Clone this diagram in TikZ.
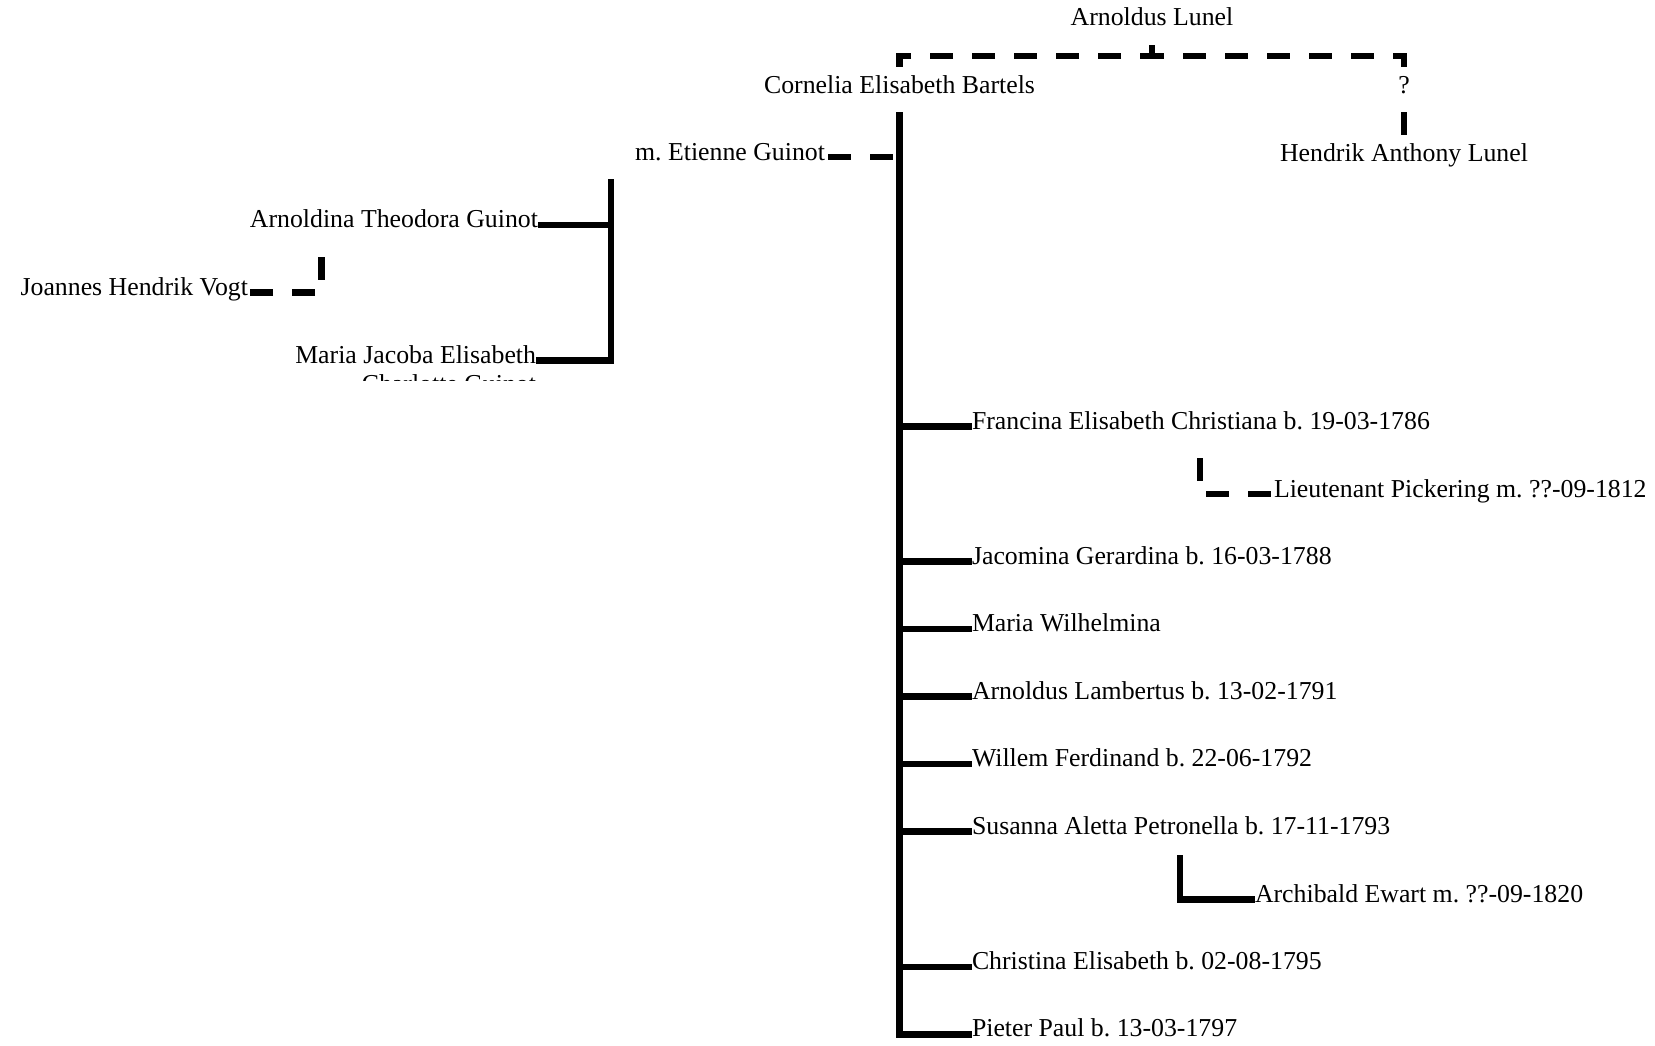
\documentclass[tikz,border=0pt]{standalone}
\usepackage{fontspec}
\setmainfont{Liberation Serif}
\frenchspacing
\begin{document}
\frenchspacing
\begin{tikzpicture}[x=1pt,y=-1pt,
  person/.style={inner sep=0pt, outer sep=0pt, font=\fontsize{25.8}{30}\selectfont},
  solidlink/.style={line width=6.5pt},
  dashlink/.style={line width=6.5pt, dash pattern=on 23pt off 19pt},
]
\useasboundingbox[fill=white] (0,0) rectangle (1655,1045);

% top generation
\node[person, anchor=base] (arnoldus) at (1152,25.5) {Arnoldus Lunel};
\node[person, anchor=base] (cornelia) at (899.5,93) {Cornelia Elisabeth Bartels};
\node[person, anchor=base] (unk) at (1404,93) {?};
\node[person, anchor=base] (hendrik) at (1404,161) {Hendrik Anthony Lunel};
\node[person, anchor=base east] (guinot) at (825,160) {m. Etienne Guinot};

% left branch
\node[person, anchor=base east] (arnoldina) at (538,227.5) {Arnoldina Theodora Guinot};
\node[person, anchor=base east] (vogt) at (248,295) {Joannes Hendrik Vogt};
\node[person, anchor=base east] (mariaj) at (536,363) {Maria Jacoba Elisabeth};
\begin{scope}
  \clip (0,0) rectangle (1655,380);
  \node[person, anchor=base east] (mariaj2) at (536,392) {Charlotte Guinot};
\end{scope}

% children
\node[person, anchor=base west] (francina) at (972,429) {Francina Elisabeth Christiana b. 19-03-1786};
\node[person, anchor=base west] (pickering) at (1274,497) {Lieutenant Pickering m. ??-09-1812};
\node[person, anchor=base west] (jacomina) at (972,564) {Jacomina Gerardina b. 16-03-1788};
\node[person, anchor=base west] (mariaw) at (972,631.5) {Maria Wilhelmina};
\node[person, anchor=base west] (arnoldusl) at (972,699) {Arnoldus Lambertus b. 13-02-1791};
\node[person, anchor=base west] (willem) at (972,766.7) {Willem Ferdinand b. 22-06-1792};
\node[person, anchor=base west] (susanna) at (972,834.2) {Susanna Aletta Petronella b. 17-11-1793};
\node[person, anchor=base west] (archibald) at (1255,902.5) {Archibald Ewart m. ??-09-1820};
\node[person, anchor=base west] (christina) at (972,969.3) {Christina Elisabeth b. 02-08-1795};
\node[person, anchor=base west] (pieter) at (972,1036.9) {Pieter Paul b. 13-03-1797};

% connector points
\coordinate (arntick) at ([yshift=-19.5pt]arnoldus.base);
\coordinate (corneliatop) at ([yshift=26pt]cornelia.base);
\coordinate (unktop) at ([yshift=26pt]unk.base);
\coordinate (trunktop) at ([yshift=-19pt]cornelia.base);
\coordinate (guinotc) at ([xshift=3pt,yshift=3pt]guinot.base east);
\coordinate (subtop) at (611,179);
\coordinate (arnoldinac) at ([yshift=2.5pt]arnoldina.base east);
\coordinate (mariajc) at ([yshift=2.5pt]mariaj.base east);
\coordinate (vogttop) at (321.5,257);
\coordinate (vogtc) at ([xshift=2pt,yshift=2.5pt]vogt.base east);
\coordinate (picktop) at (1200,458);
\coordinate (pickc) at ([yshift=3pt]pickering.base west);
\coordinate (archtop) at (1180,855);
\coordinate (archc) at ([yshift=3pt]archibald.base west);
\coordinate (francinac) at ([yshift=2.5pt]francina.base west);
\coordinate (jacominac) at ([yshift=2.5pt]jacomina.base west);
\coordinate (mariawc) at ([yshift=2.5pt]mariaw.base west);
\coordinate (arnoldusc) at ([yshift=2.5pt]arnoldusl.base west);
\coordinate (willemc) at ([yshift=2.5pt]willem.base west);
\coordinate (susannac) at ([yshift=2.5pt]susanna.base west);
\coordinate (christinac) at ([yshift=2.5pt]christina.base west);
\coordinate (pieterc) at ([yshift=2.5pt]pieter.base west);

% dashed parent links
\draw[dashlink] (arntick) -- ++(0,11) -| (corneliatop);
\draw[dashlink] (arntick) -- ++(0,11) -| (unktop);
\draw[dashlink, dash phase=23pt] (unk.base) -- (hendrik.north);
\draw[dashlink] (guinotc) -- (guinotc -| trunktop);
\draw[dashlink] (vogttop) |- (vogtc);
\draw[dashlink] (picktop) |- (pickc);

% solid links
\draw[solidlink] (trunktop) |- (pieterc);
\draw[solidlink] (trunktop |- francinac) -- (francinac);
\draw[solidlink] (trunktop |- jacominac) -- (jacominac);
\draw[solidlink] (trunktop |- mariawc) -- (mariawc);
\draw[solidlink] (trunktop |- arnoldusc) -- (arnoldusc);
\draw[solidlink] (trunktop |- willemc) -- (willemc);
\draw[solidlink] (trunktop |- susannac) -- (susannac);
\draw[solidlink] (trunktop |- christinac) -- (christinac);
\draw[solidlink] (subtop) |- (mariajc);
\draw[solidlink] (subtop |- arnoldinac) -- (arnoldinac);
\draw[solidlink] (archtop) |- (archc);
\end{tikzpicture}
\end{document}
